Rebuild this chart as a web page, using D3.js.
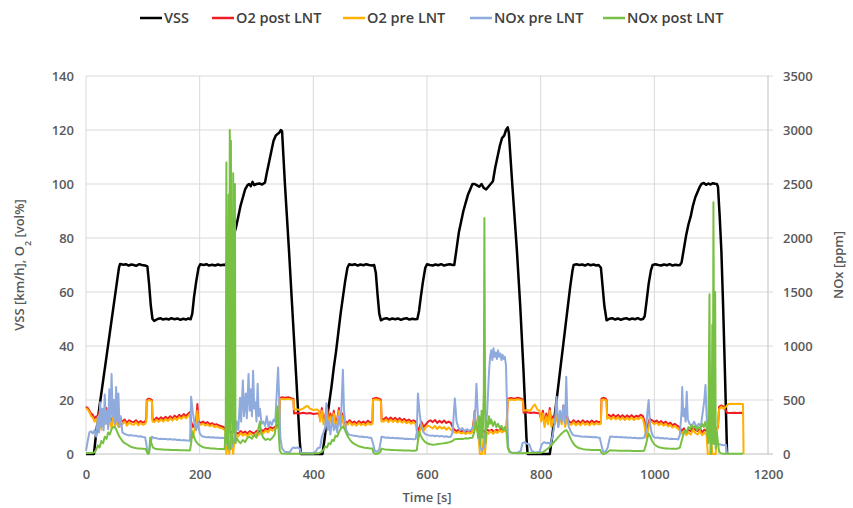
<!DOCTYPE html>
<html><head><meta charset="utf-8">
<script src="https://cdn.jsdelivr.net/npm/d3@7"></script>
<style>body{margin:0;background:#fff} text{font-family:"Open Sans",sans-serif}</style>
</head><body><svg id="c" width="853" height="508"></svg>
<script>
// ---- data: [time s, value] ----
const seriesNames = ["VSS","O2 post LNT","O2 pre LNT","NOx pre LNT","NOx post LNT"];
const xTicks = [0,200,400,600,800,1000,1200];
const leftTicks = [0,20,40,60,80,100,120,140];
const rightTicks = [0,500,1000,1500,2000,2500,3000,3500];

const vss = [[0,0],[14,0],[18,8],[24,18],[30,27],[36,36],[42,45],[48,54],[54,63],[58,69],[60,70.4],[66,70.1],[70,70.3],[75,69.8],[80,70.2],[84,70],[88,69.7],[94,70.3],[98,70],[104,69.8],[108,69.5],[111,63],[114,55],[117,50],[120,49.3],[126,50],[131,50.3],[135,49.8],[141,50.1],[146,49.8],[150,50.3],[156,49.9],[161,50.2],[166,49.7],[171,50.1],[176,49.8],[180,50.2],[184,49.9],[187,52],[190,58],[194,64],[198,69],[201,70.3],[207,70],[212,70.3],[216,69.8],[222,70.1],[227,69.8],[232,70.2],[237,69.9],[242,70.1],[245,70],[248,71],[252,74],[256,78],[260,81],[264,84],[268,88],[272,92],[276,95],[280,98],[284,99.5],[287,100],[290,99.2],[293,100.8],[296,99.6],[300,100],[305,100.2],[310,99.8],[315,100.6],[318,104],[322,108],[326,112],[330,116],[334,118],[337,118.5],[340,119],[343,120],[345,119.5],[350,100],[357,76],[364,50],[370,28],[376,5],[378,0],[416,0],[420,6],[424,13],[428,19],[432,25],[436,32],[440,38],[444,45],[448,52],[452,58],[456,64],[460,69],[463,70.3],[468,70],[473,70.3],[478,69.8],[483,70.2],[488,69.9],[493,70.3],[498,70],[503,69.8],[507,70],[510,67],[513,59],[516,52],[519,49.5],[524,50.1],[529,50.3],[534,49.8],[539,50.2],[544,49.9],[549,50.2],[554,49.7],[559,50.1],[564,50.3],[569,49.8],[574,50.1],[579,49.9],[583,50],[586,53],[589,58],[593,64],[597,69],[600,70.3],[605,70],[610,69.8],[615,70.2],[620,69.9],[625,70.3],[630,69.8],[635,70.1],[640,70.3],[645,70],[648,70],[652,76],[656,82],[660,86],[664,90],[668,93],[672,96],[676,98],[680,100],[684,100],[688,99.5],[692,99],[696,100],[700,98.5],[704,98],[708,99],[712,100],[716,101],[720,106],[724,110],[728,114],[732,117],[736,118],[739,120],[742,121],[744,119],[750,100],[758,76],[764,55],[770,30],[775,6],[777,0],[816,0],[820,6],[824,13],[828,20],[832,27],[836,34],[840,41],[844,48],[848,55],[852,62],[856,68],[858,70],[863,70.3],[868,70],[873,70.2],[878,69.8],[883,70.3],[888,69.9],[893,70.2],[898,69.8],[902,70],[906,69],[909,62],[912,55],[916,49.5],[921,50.1],[926,50.3],[931,49.8],[936,50.2],[941,49.7],[946,50.1],[951,50.3],[956,49.8],[961,50.2],[966,49.9],[971,50.3],[976,49.8],[980,50],[983,51],[986,56],[990,63],[994,68],[997,70],[1002,70.3],[1007,70],[1012,69.8],[1017,70.2],[1022,69.9],[1027,70.3],[1032,69.8],[1037,70.1],[1042,69.9],[1045,70],[1048,71],[1052,76],[1056,81],[1060,85],[1064,88],[1068,92],[1072,95],[1076,97],[1080,99],[1083,100],[1087,100.4],[1091,99.7],[1095,100.2],[1099,99.8],[1103,100.3],[1107,100.1],[1110,100],[1112,99],[1115,88],[1118,75],[1121,55],[1124,32],[1126,16],[1128,0]];

const o2Post = [[0,17.5],[3,17],[6,16],[9,15],[12,14.5],[15,13],[18,14],[21,12],[24,16],[27,11],[30,15],[33,13],[36,17],[39,12],[42,14],[45,11],[48,15],[51,12],[54,13],[57,11],[60,12.5],[64,12],[68,12.8],[72,11.5],[76,12.5],[80,12],[84,11.8],[88,12.5],[92,11.5],[96,12.2],[100,11.6],[104,12],[106,13],[107,20],[110,20.5],[114,20.3],[116,20],[117,13],[120,12.5],[124,13.5],[128,12.8],[132,13.6],[136,12.9],[140,13.8],[144,13],[148,14],[152,13.2],[156,14.2],[160,13.5],[164,14.5],[168,13.8],[172,14.8],[176,14],[180,15],[183,15.5],[185,12],[188,10],[191,11],[194,13],[196,18.5],[198,12],[202,11.5],[206,12],[210,11.3],[214,11.8],[218,11],[222,11.4],[226,10.8],[230,11],[234,10.6],[238,10.3],[242,10],[245,9.5],[248,8],[252,9],[256,8],[260,8.5],[264,8],[268,7.5],[272,8.5],[276,7.8],[280,8.3],[284,7.5],[288,8.5],[292,8],[296,7.6],[300,8.6],[304,8],[308,9],[312,8.5],[316,9.5],[320,9],[324,10],[328,9.5],[332,10],[336,10.5],[340,11],[341,20.5],[344,21],[350,20.8],[356,21],[362,20.6],[365,20.5],[366,15],[370,15.2],[376,15],[382,15.3],[388,15],[394,15.2],[400,14.8],[406,15],[410,15],[412,13],[415,17],[418,12],[421,14],[424,18],[427,11],[430,15],[433,12],[436,16],[439,11],[442,13],[445,17],[448,12],[451,15],[454,11],[457,12],[460,11.5],[464,12.5],[468,11.5],[472,12],[476,11.3],[480,12.2],[484,11.5],[488,12],[492,11.4],[496,12.3],[500,11.6],[504,12],[505,20.5],[510,20.8],[516,20.5],[519,20],[520,13],[524,12.8],[528,13.6],[532,12.6],[536,13.5],[540,12.7],[544,13.4],[548,12.5],[552,13.3],[556,12.4],[560,13],[564,12.2],[568,12.8],[572,12],[576,12.5],[580,12],[582,11],[584,8],[587,10],[590,12],[594,10],[598,11],[602,12],[606,12.5],[610,11.8],[614,12.6],[618,11.5],[622,12.3],[626,11.6],[630,12.4],[634,11.5],[638,12],[642,11.5],[645,10],[648,9],[652,8.5],[656,9],[660,8.3],[664,8.8],[668,8.2],[672,8.7],[676,8.4],[680,9],[682,12],[684,16],[686,10],[690,9],[694,8.5],[698,9],[702,8],[706,9],[710,8.5],[714,9],[718,8],[722,9],[726,8.5],[730,9.5],[734,8.8],[738,9],[740,10],[742,20.5],[748,20.7],[754,20.5],[760,20.8],[766,20.5],[769,20],[770,15.3],[776,15.5],[782,15.2],[788,15.4],[794,15.2],[798,15],[801,13],[804,16],[807,11],[810,15],[813,12],[816,17],[819,11],[822,14],[825,12],[828,16],[831,11],[834,15],[837,12],[840,18],[843,11],[846,14],[850,12],[854,11.5],[858,12.5],[862,11.5],[866,12.3],[870,11.4],[874,12.5],[878,11.6],[882,12.2],[886,11.5],[890,12.4],[894,11.6],[898,12.2],[902,11.8],[906,12],[907,20.5],[910,20.8],[914,20.6],[916,20],[917,14],[920,14.5],[924,13.8],[928,14.6],[932,13.7],[936,14.5],[940,13.6],[944,14.4],[948,13.5],[952,14.3],[956,13.6],[960,14.4],[964,13.5],[968,14.2],[972,13.8],[976,14.5],[980,14],[983,12],[986,9],[989,11],[992,13],[996,12.5],[1000,11.8],[1004,12.4],[1008,11.5],[1012,12.2],[1016,11.3],[1020,12],[1024,11],[1028,11.6],[1032,10.6],[1036,11.2],[1040,10.5],[1044,10],[1048,8.5],[1052,9.5],[1056,8],[1060,9],[1064,8.5],[1068,10],[1072,9],[1076,8.5],[1080,9.5],[1084,8],[1088,9],[1092,8.5],[1096,8],[1100,9],[1104,8.5],[1108,9],[1112,10],[1114,17.5],[1118,18],[1122,17.5],[1126,16],[1128,15.3],[1134,15.2],[1140,15.3],[1146,15.2],[1152,15.3],[1155,15.2]];

const o2Pre = [[0,17],[3,16.5],[6,15.5],[9,14],[12,13.5],[15,12],[18,13],[21,10],[24,15],[27,9],[30,14],[33,11],[36,16],[39,10],[42,13],[45,9.5],[48,14],[51,10.5],[54,12],[57,10],[60,11.5],[64,11],[68,12],[72,10.5],[76,11.8],[80,11],[84,10.8],[88,11.8],[92,10.6],[96,11.5],[100,10.8],[104,11.2],[106,12],[107,19.5],[110,20],[114,19.8],[116,19.5],[117,12],[120,11.8],[124,12.7],[128,11.9],[132,12.8],[136,12],[140,13],[144,12.2],[148,13.2],[152,12.4],[156,13.4],[160,12.6],[164,13.6],[168,13],[172,14],[176,13.2],[180,14.2],[183,14.8],[185,10],[188,6],[191,9],[194,12],[196,16],[198,11],[202,10.8],[206,11.3],[210,10.5],[214,11],[218,10.3],[222,10.7],[226,10],[230,10.3],[234,9.8],[238,9.6],[242,9.2],[245,8.5],[247,0],[250,6],[252,0],[256,7],[259,0],[262,7],[264,7.2],[268,6.5],[272,7.8],[276,6.8],[280,7.5],[284,6.5],[288,7.8],[292,7],[296,6.6],[300,7.8],[304,7],[308,8.2],[312,7.6],[316,8.8],[320,8],[324,9.2],[328,8.6],[332,9.3],[336,9.8],[340,10.2],[341,20],[344,20.5],[350,20.3],[356,20.5],[362,20.2],[365,20],[366,16.5],[370,16.6],[376,16.3],[382,16.8],[386,17.5],[390,17.8],[394,16.8],[400,16.3],[406,16.5],[410,16],[412,12],[415,16],[418,11],[421,13],[424,17],[427,10],[430,14],[433,11],[436,15],[439,10],[442,12],[445,16],[448,11],[451,14],[454,10],[457,11],[460,10.8],[464,11.8],[468,10.7],[472,11.3],[476,10.5],[480,11.5],[484,10.7],[488,11.2],[492,10.6],[496,11.5],[500,10.8],[504,11.2],[505,20],[510,20.3],[516,20],[519,19.5],[520,12],[524,12],[528,12.8],[532,11.8],[536,12.7],[540,11.9],[544,12.6],[548,11.7],[552,12.5],[556,11.6],[560,12.2],[564,11.4],[568,12],[572,11.2],[576,11.8],[580,11],[582,9],[584,5],[587,8],[590,11],[594,8.5],[598,10],[602,10.5],[606,10],[610,9.5],[614,10.4],[618,9.2],[622,10.2],[626,9.4],[630,10],[634,9],[638,9.8],[642,9],[645,8.5],[648,8],[652,7.8],[656,8.2],[660,7.6],[664,8],[668,7.4],[672,8],[676,7.6],[680,8.2],[682,11],[684,15],[686,9],[690,8],[693,0],[697,0],[700,7],[702,0],[705,8],[708,7.5],[712,8.5],[716,7.5],[720,8.5],[724,7.8],[728,8.8],[732,8],[736,8.5],[740,9.5],[742,20],[748,20.2],[754,20],[760,20.3],[766,20],[769,19.5],[770,16],[776,16.3],[782,16],[786,17.5],[790,18.3],[794,16.5],[798,16],[801,12],[804,15],[807,10],[810,14],[813,11],[816,16],[819,10],[822,13],[825,11],[828,15],[831,10],[834,14],[837,11],[840,16],[843,10],[846,13],[850,11],[854,10.8],[858,11.8],[862,10.6],[866,11.5],[870,10.6],[874,11.7],[878,10.8],[882,11.4],[886,10.6],[890,11.6],[894,10.8],[898,11.4],[902,11],[906,11.2],[907,20],[910,20.2],[914,20],[916,19.5],[917,13],[920,13.6],[924,12.8],[928,13.7],[932,12.8],[936,13.6],[940,12.7],[944,13.5],[948,12.6],[952,13.4],[956,12.7],[960,13.5],[964,12.6],[968,13.3],[972,12.9],[976,13.6],[980,13],[983,10],[986,6],[989,9],[992,12],[996,11.8],[1000,11],[1004,11.6],[1008,10.7],[1012,11.4],[1016,10.5],[1020,11.2],[1024,10.2],[1028,10.8],[1032,9.8],[1036,10.4],[1040,9.6],[1044,9],[1048,7.5],[1052,8.5],[1056,7],[1060,8],[1064,7.2],[1068,9],[1072,7.8],[1076,7.2],[1080,8.5],[1084,7],[1088,8],[1092,7],[1094,0],[1098,0],[1100,6],[1102,0],[1108,0],[1110,8],[1112,11],[1114,16.5],[1118,17.5],[1122,16.8],[1126,17.5],[1130,18.5],[1136,18.6],[1142,18.5],[1148,18.6],[1154,18.5],[1156,18.5],[1157,0]];

const noxPre = [[0,30],[3,120],[6,200],[9,210],[12,190],[15,220],[18,160],[21,350],[23,200],[25,480],[27,250],[29,420],[31,220],[33,550],[35,280],[37,400],[39,230],[41,600],[43,300],[45,740],[47,350],[49,500],[51,280],[53,620],[55,300],[57,560],[59,250],[61,350],[64,200],[68,185],[72,178],[76,172],[80,175],[84,168],[88,170],[92,162],[96,165],[100,158],[104,155],[106,100],[108,20],[111,10],[113,80],[116,160],[120,148],[124,145],[128,140],[132,142],[136,138],[140,140],[144,135],[148,138],[152,133],[156,136],[160,130],[164,132],[168,126],[172,130],[176,124],[180,126],[183,120],[185,530],[188,380],[191,280],[194,220],[197,300],[200,190],[204,165],[208,160],[212,156],[216,158],[220,152],[224,155],[228,150],[232,152],[236,148],[240,150],[244,145],[247,120],[250,60],[254,40],[258,80],[262,150],[265,300],[268,220],[271,520],[273,300],[276,680],[278,350],[281,560],[283,330],[286,740],[288,400],[290,600],[292,350],[294,770],[296,420],[298,480],[300,300],[302,650],[304,350],[306,420],[309,280],[312,300],[315,260],[318,350],[321,250],[324,300],[327,270],[330,320],[333,300],[336,600],[338,800],[340,500],[342,150],[345,50],[350,20],[358,15],[364,60],[368,55],[372,60],[376,50],[378,10],[400,5],[405,30],[408,55],[412,60],[415,160],[418,200],[421,250],[423,470],[425,220],[427,300],[430,180],[433,340],[436,220],[439,280],[442,200],[445,350],[448,250],[450,500],[452,780],[454,400],[456,300],[458,220],[462,180],[466,175],[470,170],[474,168],[478,165],[482,160],[486,162],[490,155],[494,158],[498,150],[502,150],[505,100],[508,30],[512,20],[516,40],[520,160],[524,155],[528,150],[532,152],[536,147],[540,150],[544,145],[548,148],[552,143],[556,146],[560,140],[564,142],[568,138],[572,140],[576,136],[580,138],[582,200],[584,560],[587,380],[590,250],[594,200],[598,180],[602,175],[606,168],[610,172],[614,165],[618,170],[622,162],[626,168],[630,160],[634,165],[638,158],[642,160],[645,200],[649,515],[652,300],[655,250],[658,220],[662,240],[666,210],[670,230],[674,215],[678,225],[682,260],[685,400],[687,650],[690,300],[693,100],[696,30],[700,60],[703,200],[706,400],[709,750],[711,900],[713,960],[715,870],[717,980],[719,900],[721,940],[723,880],[725,960],[727,900],[729,930],[731,870],[733,920],[735,880],[737,900],[739,820],[741,400],[743,60],[746,20],[750,10],[760,15],[765,30],[768,100],[772,110],[776,95],[780,90],[784,30],[790,15],[798,20],[802,90],[806,110],[810,100],[814,105],[818,95],[822,200],[825,300],[828,530],[831,250],[834,400],[837,300],[840,450],[843,280],[845,716],[847,350],[849,260],[852,220],[856,180],[860,170],[864,168],[868,165],[872,162],[876,160],[880,162],[884,158],[888,160],[892,155],[896,158],[900,152],[904,150],[907,80],[910,20],[914,20],[918,60],[922,160],[926,162],[930,158],[934,160],[938,155],[942,158],[946,152],[950,155],[954,150],[958,152],[962,148],[966,150],[970,146],[974,148],[978,145],[982,150],[985,200],[988,400],[990,500],[992,300],[995,200],[998,160],[1002,150],[1006,152],[1010,146],[1014,148],[1018,143],[1022,145],[1026,140],[1030,142],[1034,138],[1038,140],[1042,135],[1045,180],[1048,400],[1049,620],[1051,350],[1053,420],[1055,300],[1057,577],[1059,320],[1062,280],[1066,260],[1070,300],[1074,250],[1078,280],[1082,260],[1085,380],[1088,500],[1090,640],[1092,350],[1095,200],[1098,120],[1102,100],[1106,90],[1110,100],[1114,90],[1118,85],[1122,80],[1126,85],[1128,0]];

const noxPost = [[0,10],[10,10],[15,15],[18,40],[21,80],[24,60],[27,120],[30,100],[33,160],[36,140],[39,200],[42,180],[45,230],[48,250],[50,253],[53,230],[56,190],[60,150],[64,120],[68,100],[72,90],[76,75],[80,65],[85,58],[90,52],[95,50],[100,48],[105,46],[107,20],[109,0],[111,10],[113,150],[115,100],[118,60],[122,48],[126,45],[130,44],[135,42],[140,40],[145,40],[150,38],[155,37],[160,36],[165,35],[170,35],[175,34],[180,33],[183,35],[185,100],[187,207],[190,160],[193,120],[196,100],[200,80],[205,65],[210,58],[215,55],[220,52],[225,50],[230,48],[235,47],[240,46],[244,45],[246,300],[247,2700],[248,100],[249,1800],[250,50],[251,2400],[252,200],[253,3000],[254,50],[255,2900],[256,300],[257,1500],[258,100],[259,2600],[260,200],[261,1200],[262,2500],[263,100],[265,150],[268,120],[272,100],[276,130],[280,110],[284,150],[288,160],[292,140],[296,180],[300,150],[304,250],[306,300],[308,200],[312,150],[316,130],[320,140],[324,130],[328,150],[332,180],[335,300],[337,440],[339,200],[341,30],[344,5],[360,3],[380,3],[400,5],[410,8],[415,20],[418,40],[421,70],[424,60],[427,100],[430,90],[433,130],[436,120],[439,170],[442,160],[445,200],[448,230],[450,245],[452,253],[455,230],[458,190],[462,150],[466,120],[470,100],[475,85],[480,72],[485,65],[490,58],[495,55],[500,52],[504,50],[506,10],[510,0],[514,5],[518,20],[520,50],[524,45],[528,42],[533,40],[538,38],[543,36],[548,35],[553,34],[558,33],[563,32],[568,32],[573,31],[578,31],[582,35],[584,120],[586,207],[589,170],[592,140],[596,115],[600,100],[605,90],[610,85],[615,88],[620,92],[625,96],[630,100],[635,105],[640,110],[645,120],[648,135],[652,140],[656,138],[660,142],[664,140],[668,145],[672,143],[676,148],[680,150],[683,200],[686,300],[688,250],[690,150],[692,350],[694,80],[696,400],[698,150],[700,600],[701,2185],[702,800],[703,100],[705,300],[707,250],[709,350],[711,280],[713,320],[716,260],[719,300],[722,250],[725,280],[728,240],[731,260],[734,220],[737,250],[740,200],[742,60],[745,20],[750,10],[760,8],[780,10],[800,12],[805,20],[810,40],[815,60],[820,90],[825,120],[830,150],[835,180],[840,205],[845,222],[848,200],[852,150],[856,110],[860,80],[865,60],[870,50],[875,45],[880,42],[885,40],[890,38],[895,37],[900,36],[905,36],[907,10],[910,0],[914,5],[918,20],[922,35],[927,33],[932,32],[937,31],[942,30],[947,30],[952,29],[957,29],[962,28],[967,28],[972,28],[977,27],[982,30],[985,80],[988,150],[990,190],[993,160],[996,120],[1000,90],[1005,70],[1010,60],[1015,55],[1020,52],[1025,50],[1030,49],[1035,48],[1040,48],[1045,60],[1048,120],[1051,180],[1054,220],[1057,200],[1060,250],[1063,230],[1066,270],[1069,240],[1072,260],[1075,220],[1078,250],[1081,230],[1084,280],[1087,250],[1090,300],[1093,200],[1095,100],[1096,800],[1097,1480],[1098,600],[1099,100],[1100,0],[1101,300],[1102,1200],[1103,100],[1104,2330],[1105,900],[1106,100],[1107,1500],[1108,50],[1110,200],[1112,100],[1114,20],[1118,5],[1125,3],[1135,3],[1150,3],[1156,3]];

// ---- drawing ----
const L = 86, R = 768, T = 76, B = 454;
const svg = d3.select("#c");
const x = d3.scaleLinear().domain([0,1200]).range([L,R]);
const yL = d3.scaleLinear().domain([0,140]).range([B,T]);
const yR = d3.scaleLinear().domain([0,3500]).range([B,T]);
const tickColor = "#595959";
const fmt = d3.format("d");

// grid
const g = svg.append("g");
g.selectAll("line.h").data(leftTicks).join("line")
  .attr("x1",L).attr("x2",R+5).attr("y1",d=>yL(d)).attr("y2",d=>yL(d))
  .attr("stroke",d=>d===0?"#bfbfbf":"#d9d9d9").attr("stroke-width",1);
g.selectAll("line.v").data(xTicks).join("line")
  .attr("x1",d=>x(d)).attr("x2",d=>x(d)).attr("y1",T).attr("y2",B)
  .attr("stroke",d=>d===1200?"#bfbfbf":"#d9d9d9").attr("stroke-width",1);

// axes
const axL = d3.axisLeft(yL).tickValues(leftTicks).tickFormat(fmt).tickSize(0).tickPadding(12);
const axR = d3.axisRight(yR).tickValues(rightTicks).tickFormat(fmt).tickSize(0).tickPadding(15);
const axB = d3.axisBottom(x).tickValues(xTicks).tickFormat(fmt).tickSize(0).tickPadding(16);
function style(sel){ sel.select(".domain").remove();
  sel.selectAll("text").attr("fill",tickColor).style("font-size","13px").style("font-weight","600").style("font-family","'Open Sans',sans-serif"); }
svg.append("g").attr("transform",`translate(${L},0)`).call(axL).call(style);
svg.append("g").attr("transform",`translate(${R},0)`).call(axR).call(style);
svg.append("g").attr("transform",`translate(0,${B})`).call(axB).call(style);

// titles
svg.append("text").attr("transform","translate(24,265) rotate(-90)").attr("text-anchor","middle")
  .attr("fill",tickColor).style("font-size","13px").style("font-weight","600")
  .html('VSS [km/h], O<tspan baseline-shift="sub" font-size="9px">2</tspan> [vol%]');
svg.append("text").attr("transform","translate(843,265) rotate(-90)").attr("text-anchor","middle")
  .attr("fill",tickColor).style("font-size","13px").style("font-weight","600").text("NOx [ppm]");
svg.append("text").attr("x",(L+R)/2).attr("y",502).attr("text-anchor","middle")
  .attr("fill",tickColor).style("font-size","13px").style("font-weight","600").text("Time [s]");

// series
const colors = ["#000000","#ee1c25","#ffb000","#8faadc","#78c043"];
const widths = [2.5,2,2,2,2];
const data = [vss,o2Post,o2Pre,noxPre,noxPost];
const scales = [yL,yL,yL,yR,yR];
const plot = svg.append("g");
data.forEach((d,i)=>{
  const line = d3.line().x(p=>x(p[0])).y(p=>scales[i](p[1]));
  plot.append("path").datum(d).attr("d",line).attr("fill","none")
    .attr("stroke",colors[i]).attr("stroke-width",widths[i]).attr("stroke-linejoin","round");
});

// legend
const legX = [140,212,343,470,603];
const leg = svg.append("g");
seriesNames.forEach((n,i)=>{
  leg.append("line").attr("x1",legX[i]).attr("x2",legX[i]+22).attr("y1",18).attr("y2",18)
    .attr("stroke",colors[i]).attr("stroke-width",2.5);
  leg.append("text").attr("x",legX[i]+24).attr("y",23).attr("fill","#404040")
    .style("font-size","14.5px").style("font-weight","600").text(n);
});
</script></body></html>
